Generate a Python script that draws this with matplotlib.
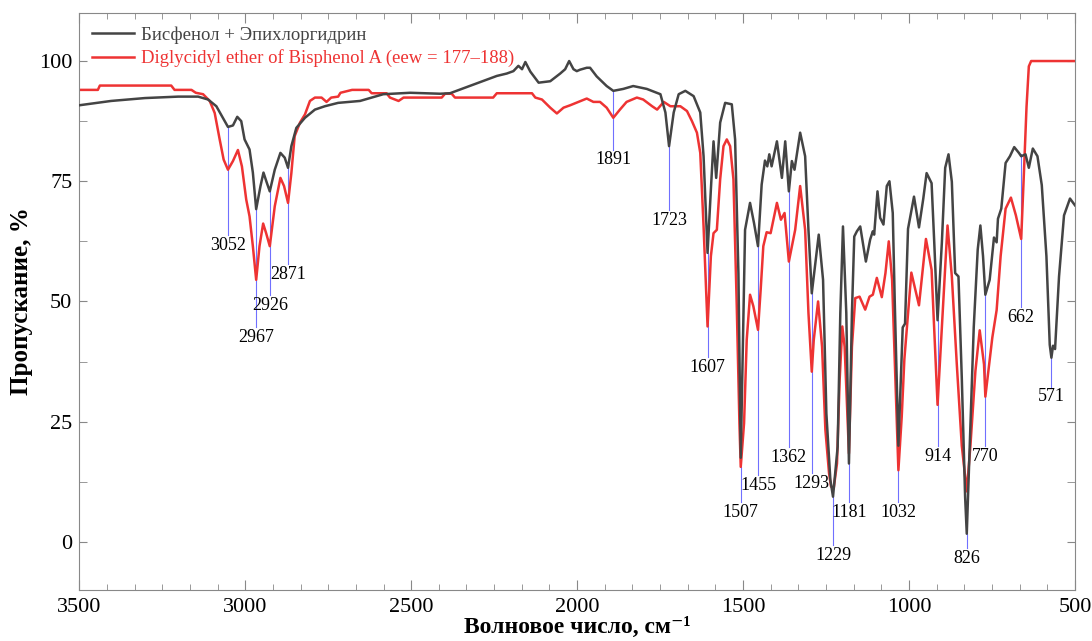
import matplotlib
matplotlib.use("Agg")
import matplotlib.pyplot as plt
from matplotlib.ticker import MultipleLocator, AutoMinorLocator

# spectrum 1: Бисфенол + Эпихлоргидрин (wavenumber, transmittance %)
black_wn = [3500, 3404, 3302, 3202, 3142, 3112, 3087, 3070, 3052, 3037, 3024, 3012, 3002, 2987, 2977,
            2967, 2954, 2945, 2935, 2926, 2911, 2894, 2881, 2871, 2861, 2846, 2820, 2790, 2760, 2720,
            2654, 2584, 2503, 2413, 2383, 2242, 2212, 2192, 2177, 2166, 2156, 2141, 2116, 2081, 2051,
            2036, 2024, 2011, 2001, 1991, 1971, 1961, 1941, 1911, 1891, 1861, 1831, 1790, 1749, 1734,
            1723, 1709, 1694, 1674, 1649, 1629, 1619, 1607, 1597, 1589, 1581, 1569, 1554, 1534, 1524,
            1514, 1507, 1494, 1479, 1467, 1455, 1444, 1434, 1427, 1421, 1414, 1398, 1383, 1373, 1362,
            1353, 1345, 1328, 1313, 1303, 1293, 1272, 1259, 1249, 1237, 1229, 1215, 1207, 1199, 1189,
            1181, 1172, 1165, 1157, 1147, 1139, 1130, 1117, 1109, 1105, 1095, 1087, 1077, 1067, 1059,
            1049, 1043, 1032, 1019, 1012, 1003, 985, 970, 957, 947, 932, 924, 914, 901, 891,
            881, 871, 861, 851, 841, 831, 826, 817, 805, 793, 785, 777, 770, 757, 744,
            736, 732, 722, 709, 696, 683, 669, 662, 649, 639, 627, 613, 600, 586, 576,
            571, 566, 560, 548, 533, 515, 500]
black_t = [90.8, 91.7, 92.3, 92.6, 92.6, 92.0, 90.6, 88.5, 86.3, 86.6, 88.4, 87.5, 83.7, 81.6, 76.8,
           69.2, 74.0, 76.8, 74.7, 72.9, 77.4, 80.9, 79.9, 77.8, 82.3, 86.1, 88.2, 89.9, 90.6, 91.3,
           91.7, 93.1, 93.4, 93.2, 93.3, 96.9, 97.4, 97.9, 99.0, 98.3, 99.8, 97.8, 95.5, 95.8, 97.4,
           98.3, 100.0, 98.3, 97.9, 98.2, 98.6, 98.6, 96.8, 94.8, 93.8, 94.2, 94.8, 94.2, 93.1, 89.3,
           82.3, 89.3, 93.1, 93.8, 92.7, 89.3, 80.2, 60.1, 73.3, 83.3, 75.7, 87.2, 91.3, 91.0, 83.7,
           55.9, 17.5, 64.9, 70.5, 66.3, 61.5, 74.3, 79.3, 78.1, 80.6, 78.1, 83.3, 75.7, 83.3, 72.9,
           79.2, 77.4, 85.1, 80.2, 64.9, 51.7, 63.9, 54.5, 26.7, 12.9, 9.4, 19.8, 47.6, 65.6, 47.6,
           16.3, 47.6, 63.5, 64.6, 65.6, 62.2, 58.3, 62.9, 64.6, 63.9, 72.9, 67.4, 66.0, 74.0, 75.0,
           68.4, 50.0, 20.0, 44.6, 45.4, 65.1, 71.8, 65.4, 71.4, 76.7, 74.6, 62.3, 46.1, 62.3, 77.8,
           80.6, 74.9, 55.9, 55.2, 34.1, 9.4, 1.7, 20.0, 44.6, 60.8, 65.8, 59.4, 51.4, 54.5, 63.3,
           62.3, 67.2, 69.3, 78.8, 80.2, 82.1, 80.9, 80.2, 80.6, 77.8, 81.8, 80.2, 74.2, 59.4, 41.0,
           38.3, 40.8, 40.1, 55.2, 67.9, 71.4, 70.0]

# spectrum 2: Diglycidyl ether of Bisphenol A
red_wn = [3500, 3444, 3438, 3223, 3213, 3162, 3149, 3127, 3107, 3092, 3077, 3065, 3052, 3037, 3022,
          3010, 2997, 2987, 2977, 2967, 2957, 2946, 2937, 2926, 2911, 2894, 2883, 2871, 2861, 2851,
          2835, 2820, 2805, 2790, 2770, 2755, 2741, 2720, 2713, 2678, 2628, 2619, 2574, 2564, 2538,
          2523, 2408, 2398, 2378, 2368, 2253, 2242, 2136, 2126, 2106, 2081, 2061, 2041, 2021, 1996,
          1971, 1951, 1931, 1911, 1891, 1871, 1851, 1820, 1801, 1774, 1759, 1739, 1719, 1689, 1669,
          1654, 1639, 1629, 1619, 1607, 1597, 1589, 1579, 1569, 1559, 1549, 1539, 1529, 1519, 1511,
          1507, 1497, 1489, 1479, 1469, 1455, 1447, 1439, 1429, 1417, 1398, 1386, 1375, 1362, 1343,
          1328, 1313, 1303, 1293, 1287, 1274, 1262, 1252, 1241, 1235, 1227, 1217, 1209, 1201, 1194,
          1181, 1172, 1162, 1149, 1132, 1119, 1109, 1097, 1082, 1071, 1061, 1051, 1041, 1032, 1022,
          1014, 993, 970, 949, 932, 914, 898, 884, 871, 856, 841, 826, 815, 800, 787,
          774, 770, 749, 736, 724, 709, 693, 678, 662, 654, 646, 639, 632, 500]
red_t = [94.0, 94.0, 94.9, 94.9, 94.0, 94.0, 93.4, 93.1, 91.7, 89.2, 83.7, 79.5, 77.4, 79.2, 81.5,
         78.1, 71.2, 67.7, 61.5, 54.5, 61.5, 66.2, 64.2, 61.5, 69.8, 75.7, 74.0, 70.5, 76.7, 84.4,
         87.2, 88.9, 91.7, 92.4, 92.4, 91.5, 92.4, 92.6, 93.4, 94.0, 94.0, 93.3, 93.3, 92.4, 91.7,
         92.4, 92.4, 93.2, 93.2, 92.4, 92.4, 93.3, 93.3, 92.4, 92.0, 90.3, 89.1, 90.3, 90.8, 91.5,
         92.2, 91.5, 91.5, 90.3, 88.2, 89.9, 91.5, 92.4, 92.0, 90.6, 89.9, 91.5, 90.6, 90.6, 89.6,
         87.5, 85.1, 80.9, 65.6, 44.8, 59.4, 64.2, 64.9, 75.4, 82.3, 83.7, 82.3, 75.4, 49.0, 24.7,
         15.6, 24.7, 42.0, 51.4, 49.0, 44.1, 52.4, 61.5, 64.4, 64.2, 70.5, 67.0, 68.4, 58.3, 64.9,
         74.0, 64.9, 47.6, 35.4, 42.0, 50.0, 40.6, 23.3, 14.3, 11.5, 11.1, 16.3, 33.7, 44.8, 40.6,
         18.4, 40.6, 50.7, 51.0, 48.3, 51.0, 51.4, 54.9, 50.9, 55.9, 62.5, 54.5, 33.7, 14.9, 26.0,
         38.0, 56.0, 49.2, 63.0, 56.6, 28.5, 48.2, 65.8, 55.2, 36.9, 20.0, 10.5, 20.0, 35.5, 44.0,
         36.9, 30.2, 42.5, 48.2, 59.4, 69.3, 71.6, 67.9, 63.0, 76.4, 90.4, 98.9, 100.0, 100.0]

# peak marks: label, where the line starts, where it ends
peak_labels = [3052, 2967, 2926, 2871, 1891, 1723, 1607, 1507, 1455, 1362,
               1293, 1229, 1181, 1032, 914, 826, 770, 662, 571]
peak_top = [86.3, 69.2, 72.9, 77.8, 93.8, 82.3, 60.1, 15.6, 61.5, 72.9,
            51.7, 9.4, 16.3, 20.0, 46.1, 1.7, 51.4, 80.6, 38.3]
peak_bottom = [63.9, 44.7, 51.4, 57.8, 81.6, 69.1, 38.5, 8.3, 13.9, 19.8,
               14.3, -0.7, 8.3, 8.3, 20.0, -1.3, 20.0, 48.9, 32.3]

serif = ["Liberation Serif", "DejaVu Serif"]
plt.rcParams["font.family"] = serif

fig = plt.figure(figsize=(10.92, 6.41), dpi=100)
ax = fig.add_axes([0.0726, 0.0796, 0.9118, 0.9002])

ax.plot(black_wn, black_t, color="#444444", lw=1.8, label="Бисфенол + Эпихлоргидрин", zorder=3)
ax.plot(red_wn, red_t, color="#ee3333", lw=1.8, label="Diglycidyl ether of Bisphenol A (eew = 177–188)", zorder=2)

for lab, top, bot in zip(peak_labels, peak_top, peak_bottom):
    ax.plot([lab, lab], [top, bot], color="#7070ff", lw=0.8, zorder=1)
    ax.text(lab, bot - 0.4, str(lab), ha="center", va="top", fontsize=13, color="black")

ax.set_xlim(3500, 500)
ax.set_ylim(-10, 110)
ax.xaxis.set_major_locator(MultipleLocator(500))
ax.xaxis.set_minor_locator(AutoMinorLocator(6))
ax.yaxis.set_minor_locator(MultipleLocator(12.5))
ax.set_yticks([0, 25, 50, 75, 100])

for sp in ax.spines.values():
    sp.set_color("#888888")
ax.tick_params(which="both", direction="in", top=True, right=True, color="#888888")
ax.tick_params(axis="x", which="major", length=7, labelsize=16, pad=6)
ax.tick_params(axis="x", which="minor", length=4)
ax.tick_params(axis="y", which="both", length=6, labelsize=16, pad=5)

ax.set_xlabel("Волновое число, см⁻¹", fontsize=17, fontweight="bold", labelpad=0)
ax.set_ylabel("Пропускание, %", fontsize=18, fontweight="bold", labelpad=4)

ax.legend(loc="upper left", frameon=False, fontsize=13.5, handlelength=2.2,
          labelcolor="linecolor", borderaxespad=0.3, handletextpad=0.4, labelspacing=0.3)

fig.savefig("out.png", dpi=100)
